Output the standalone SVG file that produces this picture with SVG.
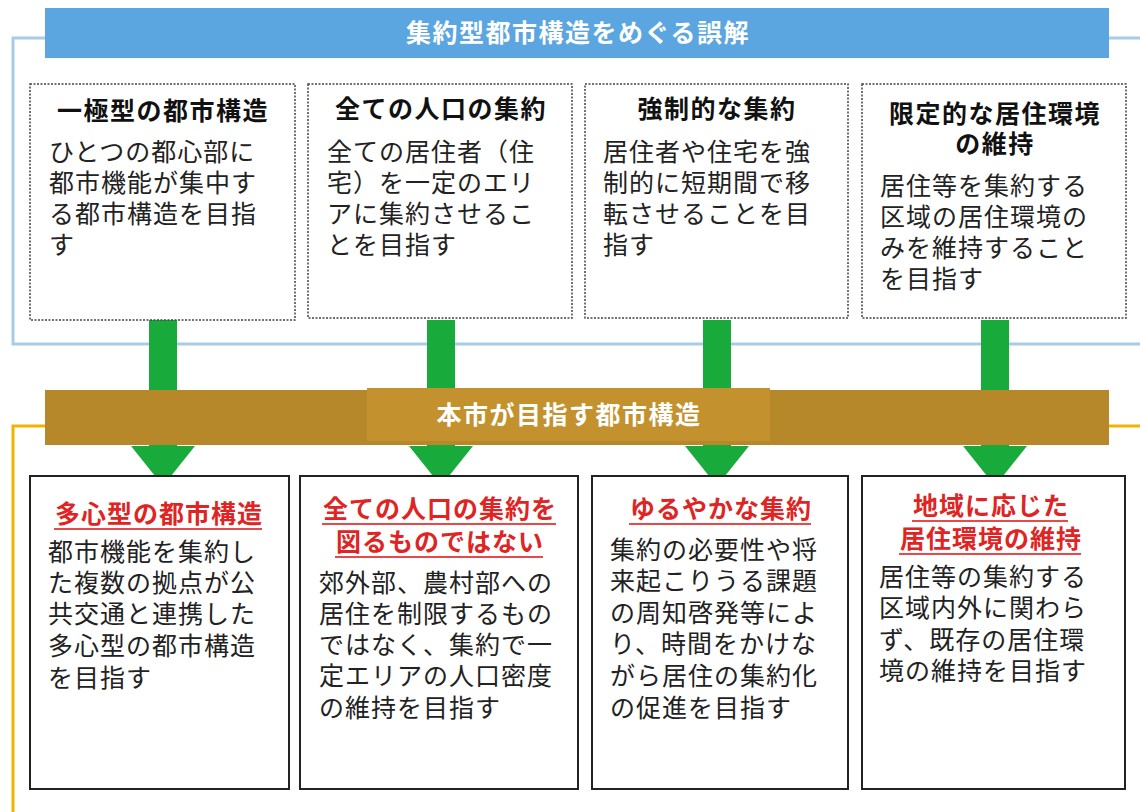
<svg xmlns="http://www.w3.org/2000/svg" width="1140" height="812" viewBox="0 0 1140 812">
<style>
text{font-family:"Noto Sans CJK JP","Noto Sans CJK SC",sans-serif;}
.ttl{font-size:25px;font-weight:bold;fill:#111;text-anchor:middle;letter-spacing:1.5px;}
.body{font-size:25px;fill:#222;letter-spacing:1px;}
.rt{font-size:25px;font-weight:bold;fill:#e02424;text-anchor:middle;letter-spacing:1px;}
.ul{stroke:#e84a4a;stroke-width:2;}
.dbox{fill:#fff;stroke:#444;stroke-width:1.5;stroke-dasharray:2 1.5;}
.sbox{fill:#fff;stroke:#222;stroke-width:2;}
.green{fill:#19aa3c;}
.wt{font-size:25px;font-weight:bold;fill:#fff;text-anchor:middle;letter-spacing:1.5px;}
</style>
<rect width="1140" height="812" fill="#fff"/>
<rect x="13" y="38" width="1140" height="306" fill="#fff" stroke="#a8cbe8" stroke-width="3"/>
<rect x="13" y="426" width="1140" height="400" fill="#fff" stroke="#f0b400" stroke-width="3"/>
<g id="title">
<rect x="45" y="8" width="1064" height="50" fill="#5ba6e0"/>
<text class="wt" x="578" y="42">集約型都市構造をめぐる誤解</text>
</g>
<g id="connectors">
<rect class="green" x="149" y="320" width="28" height="128"/>
<polygon class="green" points="131,446 195,446 163,486"/>
<rect class="green" x="427" y="320" width="28" height="128"/>
<polygon class="green" points="409,446 473,446 441,486"/>
<rect class="green" x="703" y="320" width="28" height="128"/>
<polygon class="green" points="685,446 749,446 717,486"/>
<rect class="green" x="981" y="320" width="28" height="128"/>
<polygon class="green" points="963,446 1027,446 995,486"/>
</g>
<g id="band">
<rect x="45" y="390" width="1064" height="55" fill="#b7882a"/>
<rect x="367" y="388" width="403" height="53" fill="#c3922e"/>
<text class="wt" x="569" y="424">本市が目指す都市構造</text>
</g>
<g id="top1">
<rect class="dbox" x="30" y="84" width="265" height="236"/>
<text class="ttl" x="163" y="120">一極型の都市構造</text>
<text class="body"><tspan x="49" y="161">ひとつの都心部に</tspan><tspan x="49" y="192">都市機能が集中す</tspan><tspan x="49" y="223">る都市構造を目指</tspan><tspan x="49" y="254">す</tspan></text>
</g>
<g id="top2">
<rect class="dbox" x="308" y="84" width="264" height="234"/>
<text class="ttl" x="441" y="118">全ての人口の集約</text>
<text class="body"><tspan x="327" y="161">全ての居住者（住</tspan><tspan x="327" y="192">宅）を一定のエリ</tspan><tspan x="327" y="223">アに集約させるこ</tspan><tspan x="327" y="254">とを目指す</tspan></text>
</g>
<g id="top3">
<rect class="dbox" x="585" y="84" width="263" height="234"/>
<text class="ttl" x="717" y="118">強制的な集約</text>
<text class="body"><tspan x="603" y="161">居住者や住宅を強</tspan><tspan x="603" y="192">制的に短期間で移</tspan><tspan x="603" y="223">転させることを目</tspan><tspan x="603" y="254">指す</tspan></text>
</g>
<g id="top4">
<rect class="dbox" x="862" y="84" width="264" height="234"/>
<text class="ttl" x="995" y="123">限定的な居住環境</text>
<text class="ttl" x="995" y="153">の維持</text>
<text class="body"><tspan x="880" y="195">居住等を集約する</tspan><tspan x="880" y="226">区域の居住環境の</tspan><tspan x="880" y="257">みを維持すること</tspan><tspan x="880" y="288">を目指す</tspan></text>
</g>
<g id="bot1">
<rect class="sbox" x="30" y="476" width="259" height="313"/>
<text class="rt" x="159" y="523">多心型の都市構造</text>
<line class="ul" x1="54" y1="529" x2="262" y2="529"/>
<text class="body"><tspan x="48" y="561">都市機能を集約し</tspan><tspan x="48" y="592">た複数の拠点が公</tspan><tspan x="48" y="623">共交通と連携した</tspan><tspan x="48" y="655">多心型の都市構造</tspan><tspan x="48" y="687">を目指す</tspan></text>
</g>
<g id="bot2">
<rect class="sbox" x="300" y="476" width="278" height="313"/>
<text class="rt" x="440" y="518">全ての人口の集約を</text>
<line class="ul" x1="322" y1="524" x2="556" y2="524"/>
<text class="rt" x="440" y="551">図るものではない</text>
<line class="ul" x1="335" y1="557" x2="543" y2="557"/>
<text class="body"><tspan x="319" y="592">郊外部、農村部への</tspan><tspan x="319" y="623">居住を制限するもの</tspan><tspan x="319" y="654">ではなく、集約で一</tspan><tspan x="319" y="685">定エリアの人口密度</tspan><tspan x="319" y="717">の維持を目指す</tspan></text>
</g>
<g id="bot3">
<rect class="sbox" x="592" y="476" width="256" height="313"/>
<text class="rt" x="721" y="518">ゆるやかな集約</text>
<line class="ul" x1="629" y1="524" x2="811" y2="524"/>
<text class="body"><tspan x="610" y="559">集約の必要性や将</tspan><tspan x="610" y="590">来起こりうる課題</tspan><tspan x="610" y="622">の周知啓発等によ</tspan><tspan x="610" y="653">り、時間をかけな</tspan><tspan x="610" y="685">がら居住の集約化</tspan><tspan x="610" y="717">の促進を目指す</tspan></text>
</g>
<g id="bot4">
<rect class="sbox" x="862" y="476" width="263" height="313"/>
<text class="rt" x="991" y="515">地域に応じた</text>
<line class="ul" x1="912" y1="521" x2="1068" y2="521"/>
<text class="rt" x="991" y="548">居住環境の維持</text>
<line class="ul" x1="899" y1="554" x2="1081" y2="554"/>
<text class="body"><tspan x="879" y="586">居住等の集約する</tspan><tspan x="879" y="617">区域内外に関わら</tspan><tspan x="879" y="649">ず、既存の居住環</tspan><tspan x="879" y="680">境の維持を目指す</tspan></text>
</g>
</svg>
